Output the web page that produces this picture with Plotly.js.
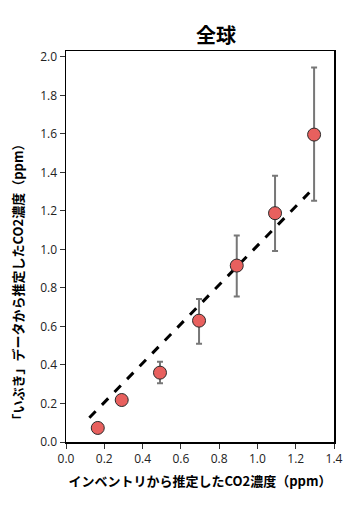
<!DOCTYPE html>
<html>
<head>
<meta charset="utf-8">
<script src="https://cdn.plot.ly/plotly-3.0.1.min.js"></script>
<style>html,body{margin:0;padding:0;background:#fff;}#chart{width:354px;height:509px;}</style>
</head>
<body>
<div id="chart"></div>
<script>
const inventoryX = [0.166, 0.291, 0.491, 0.695, 0.892, 1.092, 1.296];
const gosatY = [0.073, 0.218, 0.36, 0.63, 0.916, 1.188, 1.596];
const errPlus = [0, 0, 0.057, 0.113, 0.156, 0.194, 0.348];
const errMinus = [0, 0, 0.055, 0.12, 0.161, 0.196, 0.344];
const fitX = [0.122, 1.271];
const fitY = [0.126, 1.295];
const xTicks = [0, 0.2, 0.4, 0.6, 0.8, 1.0, 1.2, 1.4];
const xTickText = ['0.0','0.2','0.4','0.6','0.8','1.0','1.2','1.4'];
const yTicks = [0, 0.2, 0.4, 0.6, 0.8, 1.0, 1.2, 1.4, 1.6, 1.8, 2.0];
const yTickText = ['0.0','0.2','0.4','0.6','0.8','1.0','1.2','1.4','1.6','1.8','2.0'];
const titleText = '全球';
const xTitle = 'インベントリから推定したCO2濃度（ppm）';
const yTitle = '「いぶき」データから推定したCO2濃度（ppm）';

const cjk = '"Noto Sans CJK JP", "Noto Sans", sans-serif';
const traces = [
  {
    x: fitX, y: fitY, type: 'scatter', mode: 'lines',
    line: {color: '#000', width: 3, dash: 'dash'},
    hoverinfo: 'skip', showlegend: false
  },
  {
    x: inventoryX, y: gosatY, type: 'scatter', mode: 'markers',
    marker: {size: 13, color: '#e8605e', line: {color: '#2a2a2a', width: 1}},
    error_y: {type: 'data', symmetric: false, array: errPlus, arrayminus: errMinus,
      color: '#777', thickness: 2, width: 3},
    showlegend: false
  }
];
const layout = {
  width: 354, height: 509,
  margin: {l: 66, r: 20, t: 51, b: 67},
  paper_bgcolor: '#fff', plot_bgcolor: '#fff',
  title: {text: '<b>' + titleText + '</b>', font: {family: cjk, size: 20, color: '#000'},
    x: 0.56, xanchor: 'center', y: 0.93, yanchor: 'middle', xref: 'paper'},
  xaxis: {
    range: [0, 1.4], tickvals: xTicks, ticktext: xTickText,
    showgrid: false, zeroline: false, showline: true, linecolor: '#000', linewidth: 1.5,
    mirror: true, ticks: 'outside', ticklen: 5, tickcolor: '#333', tickwidth: 1,
    tickfont: {family: '"Open Sans", sans-serif', size: 12, color: '#222'},
    title: {text: '<b>' + xTitle + '</b>', font: {family: cjk, size: 13, color: '#000'}, standoff: 11}
  },
  yaxis: {
    range: [0, 2.03], tickvals: yTicks, ticktext: yTickText,
    showgrid: false, zeroline: false, showline: true, linecolor: '#000', linewidth: 1.5,
    mirror: true, ticks: 'outside', ticklen: 5, tickcolor: '#333', tickwidth: 1,
    tickfont: {family: '"Open Sans", sans-serif', size: 12, color: '#222'}
  },
  annotations: [{
    text: '<b>' + yTitle + '</b>', xref: 'paper', yref: 'paper',
    x: -0.18, y: 0.41, xanchor: 'center', yanchor: 'middle', textangle: -90,
    showarrow: false, font: {family: cjk, size: 13, color: '#000'}
  }]
};
Plotly.newPlot('chart', traces, layout, {displayModeBar: false, staticPlot: true});
</script>
</body>
</html>
